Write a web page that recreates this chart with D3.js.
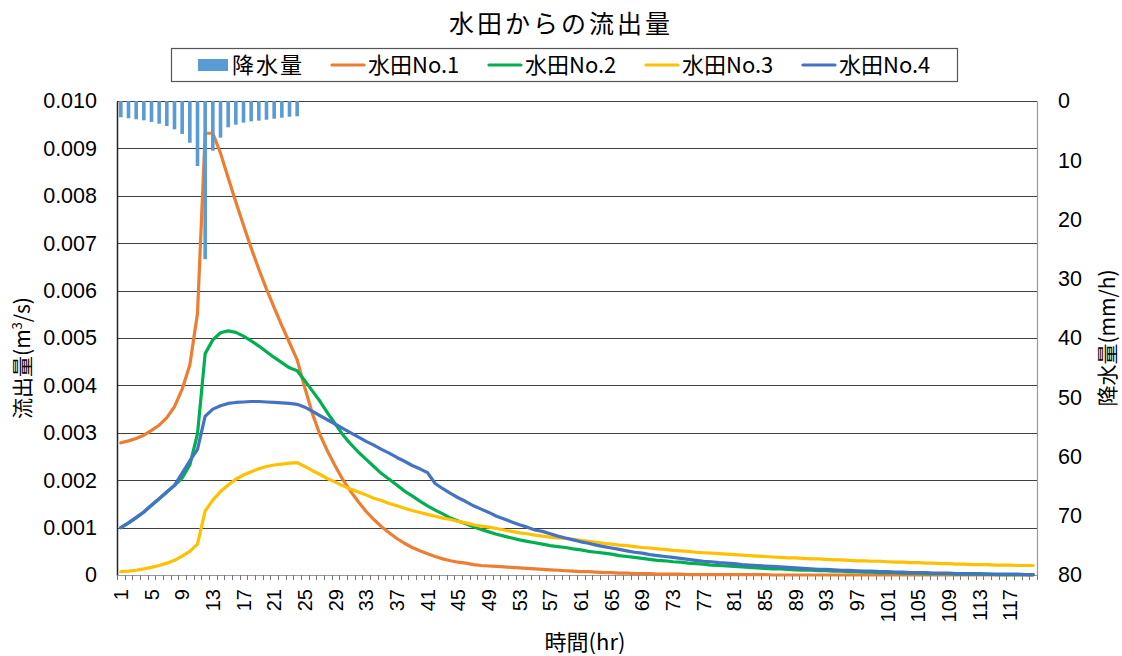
<!DOCTYPE html>
<html><head><meta charset="utf-8">
<script src="https://cdn.jsdelivr.net/npm/d3@7"></script>
<style>
html,body{margin:0;padding:0;background:#fff;}
svg{display:block;}
.jp{font-family:"Noto Sans CJK JP","Noto Sans",sans-serif;}
.num{font-family:"Liberation Sans",Arial,sans-serif;}
</style></head>
<body>
<svg id="chart" width="1122" height="656"></svg>
<script>
const hours = d3.range(1, 121);
const xTickLabels = d3.range(1, 121, 4).map(String);
const leftTicks = [0,0.001,0.002,0.003,0.004,0.005,0.006,0.007,0.008,0.009,0.010];
const leftTickLabels = ["0","0.001","0.002","0.003","0.004","0.005","0.006","0.007","0.008","0.009","0.010"];
const rightTicks = [0,10,20,30,40,50,60,70,80];

const rainfall = [2.75,2.92,3.09,3.26,3.54,3.83,4.22,4.78,5.57,7.04,10.97,26.7,8.39,6.19,4.44,4.0,3.66,3.43,3.32,3.16,2.99,2.82,2.65,2.58];

const paddy1 = [0.00279,0.00283,0.00288,0.00295,0.00305,0.00316,0.00332,0.00355,0.00392,0.00443,0.00552,
0.00932,0.00932,0.0089,0.00838,0.00787,0.00738,0.0069,0.00645,0.00603,0.00564,0.00526,0.0049,0.00454,
0.00395,0.0034,0.00295,0.0026,0.00229,0.002,0.00176,0.00154,0.00134,0.00117,0.00102,0.00089,0.00077,0.00067,0.00058,0.00051,
0.00045,0.00039,0.00034,0.0003,0.00027,0.00025,0.00022,0.0002,0.00019,0.00018,0.00017,0.00016,0.00015,0.00014,0.00013,0.00012,0.00011,
0.0001,0.00009,0.00008,0.00007,0.00007,0.00006,0.00005,0.00005,0.00004,0.00004,0.00003,0.00003,0.00003,0.00002,0.00002,0.00002,0.00002,
0.00001,0.00001,0.00001,0.00001,0.00001,0.00001,0.00001,0.00001,0.00001,0.00001,0.00001,0,0,0,0,0,0,0,0,0,0,
0,0,0,0,0,0,0,0,0,0,0,0,0,0,0,0,0,0,0,0,0,0,0,0,0];

const paddy2 = [0.001,0.0011,0.00121,0.00133,0.00147,0.00161,0.00175,0.00189,0.00205,0.00232,0.00298,
0.00467,0.00496,0.00511,0.00515,0.00512,0.00504,0.00494,0.00483,0.00471,0.00459,0.00448,0.00437,0.00431,
0.0041,0.00388,0.00366,0.00341,0.00318,0.00295,0.00276,0.00259,0.00244,0.00229,0.00214,0.00202,0.0019,0.00177,0.00167,0.00156,
0.00146,0.00137,0.00129,0.0012,0.00114,0.00108,0.00102,0.00096,0.00091,0.00086,0.00082,0.00078,0.00074,0.00071,0.00068,0.00065,0.00062,
0.0006,0.00058,0.00055,0.00053,0.0005,0.00048,0.00046,0.00044,0.00041,0.00039,0.00037,0.00035,0.00033,0.00031,0.0003,0.00028,0.00027,
0.00025,0.00024,0.00023,0.00021,0.0002,0.00019,0.00018,0.00017,0.00016,0.00015,0.00014,0.00013,0.00013,0.00012,0.00011,0.0001,0.0001,
0.00009,0.00009,0.00008,0.00008,0.00007,0.00007,0.00006,0.00006,0.00005,0.00005,0.00005,0.00004,0.00004,0.00004,0.00003,0.00003,0.00003,
0.00003,0.00002,0.00002,0.00002,0.00002,0.00002,0.00001,0.00001,0.00001,0.00001,0.00001,0.00001];

const paddy3 = [0.00007,0.00008,0.0001,0.00013,0.00016,0.0002,0.00025,0.00031,0.0004,0.0005,0.00065,
0.00135,0.00158,0.00176,0.0019,0.00202,0.00211,0.00218,0.00224,0.00229,0.00232,0.00234,0.00236,0.00237,
0.00229,0.0022,0.00212,0.00203,0.00196,0.00188,0.00181,0.00175,0.00169,0.00162,0.00157,0.00151,0.00146,0.00141,0.00136,0.00132,
0.00128,0.00124,0.0012,0.00117,0.00113,0.0011,0.00106,0.00103,0.00101,0.00098,0.00095,0.00092,0.00089,0.00087,0.00084,0.00082,0.0008,
0.00078,0.00077,0.00075,0.00073,0.00071,0.00069,0.00067,0.00065,0.00063,0.00062,0.0006,0.00058,0.00057,0.00055,0.00054,0.00052,0.00051,
0.0005,0.00048,0.00047,0.00046,0.00045,0.00044,0.00043,0.00042,0.00041,0.0004,0.00039,0.00038,0.00037,0.00036,0.00036,0.00035,0.00034,
0.00034,0.00033,0.00032,0.00032,0.00031,0.0003,0.0003,0.00029,0.00029,0.00028,0.00027,0.00027,0.00026,0.00026,0.00025,0.00025,0.00024,
0.00024,0.00023,0.00023,0.00022,0.00022,0.00022,0.00021,0.00021,0.00021,0.0002,0.0002,0.0002];

const paddy4 = [0.001,0.0011,0.00121,0.00133,0.00147,0.00161,0.00175,0.00189,0.00215,0.00241,0.00265,
0.00335,0.0035,0.00357,0.00362,0.00364,0.00365,0.00366,0.00366,0.00365,0.00364,0.00363,0.00362,0.0036,
0.00354,0.00345,0.00336,0.00327,0.00318,0.00309,0.003,0.00291,0.00282,0.00274,0.00265,0.00257,0.00248,0.0024,0.00231,0.00224,0.00216,
0.00193,0.00182,0.00172,0.00163,0.00155,0.00146,0.00139,0.00132,0.00124,0.00118,0.00112,0.00106,0.00101,0.00095,0.00092,0.00087,
0.00082,0.00078,0.00074,0.0007,0.00067,0.00063,0.0006,0.00057,0.00054,0.00051,0.00048,0.00046,0.00043,0.00041,0.00039,0.00037,0.00035,
0.00033,0.00031,0.00029,0.00028,0.00026,0.00025,0.00024,0.00022,0.00021,0.0002,0.00019,0.00018,0.00017,0.00016,0.00015,0.00014,0.00013,
0.00012,0.00012,0.00011,0.0001,0.0001,0.00009,0.00008,0.00008,0.00007,0.00007,0.00006,0.00006,0.00005,0.00005,0.00005,0.00004,0.00004,
0.00004,0.00003,0.00003,0.00003,0.00003,0.00002,0.00002,0.00002,0.00002,0.00002,0.00001,0.00001];

const seriesNames = ["水田No.1","水田No.2","水田No.3","水田No.4"];
const seriesColors = ["#ED7D31","#00B050","#FFC000","#4472C4"];
const rainName = "降水量";
const rainColor = "#5B9BD5";

const svg = d3.select("#chart");
const L = 117, R = 1037, T = 101, B = 575;

const x = d3.scaleBand().domain(hours).range([L, R]).padding(0);
const cx = h => x(h) + x.bandwidth() / 2;
const y = d3.scaleLinear().domain([0, 0.010]).range([B, T]);
const y2 = d3.scaleLinear().domain([0, 80]).range([T, B]);

// gridlines
svg.append("g").selectAll("line").data(leftTicks.slice(1)).join("line")
  .attr("x1", L).attr("x2", R).attr("y1", d => Math.round(y(d)) + 0.5).attr("y2", d => Math.round(y(d)) + 0.5)
  .attr("stroke", "#404040").attr("stroke-width", 1.2);

// left axis
const gl = svg.append("g").attr("transform", `translate(${L},0)`)
  .call(d3.axisLeft(y).tickValues(leftTicks).tickFormat((d, i) => leftTickLabels[i]).tickSize(0).tickPadding(20));
gl.select(".domain").attr("stroke", "#222").attr("stroke-width", 1.5);
gl.selectAll("text").attr("class", "num").style("font-size", "21.5px").attr("fill", "#000");

// right axis
const gr = svg.append("g").attr("transform", `translate(${R},0)`)
  .call(d3.axisRight(y2).tickValues(rightTicks).tickSize(0).tickPadding(21));
gr.select(".domain").attr("stroke", "#999").attr("stroke-width", 1.2);
gr.selectAll("text").attr("class", "num").style("font-size", "21.5px").attr("fill", "#000");

// bottom axis
const gb = svg.append("g").attr("transform", `translate(0,${B})`)
  .call(d3.axisBottom(x).tickValues([]).tickSize(0));
gb.select(".domain").attr("stroke", "#999").attr("stroke-width", 1.2);
// minor ticks at category boundaries
svg.append("g").selectAll("line").data(hours.concat([121])).join("line")
  .attr("x1", h => h <= 120 ? Math.round(x(h)) + 0.5 : R + 0.5)
  .attr("x2", h => h <= 120 ? Math.round(x(h)) + 0.5 : R + 0.5)
  .attr("y1", B).attr("y2", B + 5).attr("stroke", "#777").attr("stroke-width", 1);
// labels
svg.append("g").selectAll("text").data(xTickLabels).join("text")
  .attr("class", "num")
  .attr("transform", d => `translate(${cx(+d) + 7},${B + 14}) rotate(-90)`)
  .attr("text-anchor", "end")
  .style("font-size", "20px")
  .text(d => d);

// lines
const lineGen = d3.line().x((d, i) => cx(hours[i])).y(d => y(d));
[paddy1, paddy2, paddy3, paddy4].forEach((s, k) => {
  svg.append("path").datum(s).attr("d", lineGen)
    .attr("fill", "none").attr("stroke", seriesColors[k]).attr("stroke-width", 3.2)
    .attr("stroke-linejoin", "round").attr("stroke-linecap", "round");
});

// rain bars
const bw = 3.6;
svg.append("g").selectAll("rect").data(rainfall).join("rect")
  .attr("x", (d, i) => cx(hours[i]) - bw / 2)
  .attr("y", y2(0))
  .attr("width", bw)
  .attr("height", d => y2(d) - y2(0))
  .attr("fill", rainColor);

// title
svg.append("text").attr("class", "jp").attr("x", 561).attr("y", 33)
  .attr("text-anchor", "middle").style("font-size", "25px").style("letter-spacing", "3px")
  .text("水田からの流出量");

// legend
svg.append("rect").attr("x", 171.5).attr("y", 48.5).attr("width", 786).attr("height", 33)
  .attr("fill", "#fff").attr("stroke", "#555").attr("stroke-width", 1.2);
svg.append("rect").attr("x", 198).attr("y", 59).attr("width", 30).attr("height", 12).attr("fill", rainColor);
svg.append("text").attr("class", "jp").attr("x", 232).attr("y", 73).style("font-size", "22px").style("letter-spacing", "2px").text(rainName);
const legX = [332, 489, 646, 803];
seriesNames.forEach((n, k) => {
  svg.append("line").attr("x1", legX[k]).attr("x2", legX[k] + 32).attr("y1", 65).attr("y2", 65)
    .attr("stroke", seriesColors[k]).attr("stroke-width", 3.2).attr("stroke-linecap", "round");
  svg.append("text").attr("class", "jp").attr("x", legX[k] + 36).attr("y", 73).style("font-size", "22px").text(n);
});

// axis titles
const lt = svg.append("text").attr("class", "jp").attr("transform", "translate(30,358) rotate(-90)")
  .attr("text-anchor", "middle").style("font-size", "21px");
lt.append("tspan").text("流出量(m");
lt.append("tspan").attr("dy", -8).style("font-size", "13px").text("3");
lt.append("tspan").attr("dy", 8).text("/s)");

svg.append("text").attr("class", "jp").attr("transform", "translate(1115,338) rotate(-90)")
  .attr("text-anchor", "middle").style("font-size", "21px").text("降水量(mm/h)");

svg.append("text").attr("class", "jp").attr("x", 585).attr("y", 650)
  .attr("text-anchor", "middle").style("font-size", "22px").text("時間(hr)");
</script>
</body></html>
